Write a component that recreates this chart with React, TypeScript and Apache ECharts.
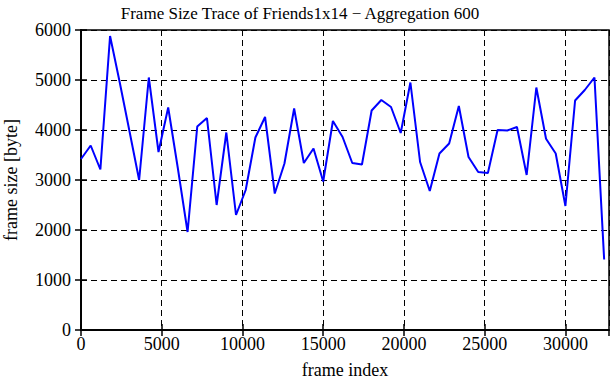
import React, { useEffect, useRef } from "react";
import * as echarts from "echarts";

const title = "Frame Size Trace of Friends1x14 \u2212 Aggregation 600";
const xLabel = "frame index";
const yLabel = "frame size [byte]";
const aggregation = 600;
const frameSizes = [
  3420, 3690, 3210, 5880, 4950, 3980, 3000, 5050, 3560, 4450,
  3230, 1960, 4070, 4240, 2500, 3950, 2300, 2800, 3850, 4260,
  2730, 3330, 4430, 3340, 3630, 2970, 4180, 3860, 3340, 3310,
  4390, 4600, 4460, 3940, 4950, 3360, 2780, 3530, 3730, 4480,
  3460, 3160, 3140, 4000, 3990, 4060, 3100, 4850, 3825, 3530,
  2480, 4590, 4800, 5050, 1410,
];
const xMax = 32700;
const xInterval = 5000;
const yMax = 6000;
const yInterval = 1000;

const FONT = "'Liberation Serif', 'DejaVu Serif', serif";

export default function App() {
  const ref = useRef<HTMLDivElement>(null);
  useEffect(() => {
    document.body.style.margin = "0";
    if (!ref.current) return;
    const chart = echarts.init(ref.current, null, { renderer: "svg" });
    const data = frameSizes.map((v, i) => [i * aggregation, v]);
    const tickStyle = { show: true, inside: true, length: 6, lineStyle: { color: "#000", width: 1.5 } };
    const gridLine = { show: true, lineStyle: { color: "#000", type: [6, 4] as any, width: 1 } };
    const fmt = (v: number) => String(v);
    chart.setOption({
      animation: false,
      backgroundColor: "#fff",
      title: {
        text: title,
        left: 295,
        textAlign: "center",
        top: 0,
        textStyle: { fontFamily: FONT, fontSize: 17, fontWeight: "normal", color: "#000" },
      },
      grid: {
        left: 81,
        right: 2,
        top: 30,
        bottom: 50,
        show: true,
        borderColor: "#000",
        borderWidth: 1.5,
        containLabel: false,
        outerBoundsMode: "none",
      },
      xAxis: [
        {
          type: "value",
          min: 0,
          max: xMax,
          interval: xInterval,
          position: "bottom",
          name: xLabel,
          nameLocation: "middle",
          nameGap: 31,
          nameTextStyle: { fontFamily: FONT, fontSize: 18, color: "#000" },
          axisLine: { show: true, lineStyle: { color: "#000", width: 1.5 } },
          axisTick: tickStyle,
          axisLabel: {
            fontFamily: FONT,
            fontSize: 18,
            color: "#000",
            margin: 5,
            showMaxLabel: false,
            formatter: fmt,
          },
          splitLine: gridLine,
        },
        {
          type: "value",
          min: 0,
          max: xMax,
          interval: xInterval,
          position: "top",
          axisLine: { show: true, lineStyle: { color: "#000", width: 1.5 } },
          axisTick: tickStyle,
          axisLabel: { show: false },
          splitLine: { show: false },
        },
      ],
      yAxis: [
        {
          type: "value",
          min: 0,
          max: yMax,
          interval: yInterval,
          position: "left",
          name: yLabel,
          nameLocation: "middle",
          nameGap: 61,
          nameTextStyle: { fontFamily: FONT, fontSize: 18, color: "#000" },
          axisLine: { show: true, lineStyle: { color: "#000", width: 1.5 } },
          axisTick: tickStyle,
          axisLabel: { fontFamily: FONT, fontSize: 18, color: "#000", margin: 10, formatter: fmt },
          splitLine: gridLine,
        },
        {
          type: "value",
          min: 0,
          max: yMax,
          interval: yInterval,
          position: "right",
          axisLine: { show: true, lineStyle: { color: "#000", width: 1.5 } },
          axisTick: tickStyle,
          axisLabel: { show: false },
          splitLine: { show: false },
        },
      ],
      series: [
        {
          type: "line",
          data,
          xAxisIndex: 0,
          yAxisIndex: 0,
          showSymbol: false,
          symbol: "none",
          lineStyle: { color: "#0000ff", width: 2 },
          z: 5,
        },
      ],
    });
    return () => chart.dispose();
  }, []);
  return <div ref={ref} style={{ width: 611, height: 380 }} />;
}
